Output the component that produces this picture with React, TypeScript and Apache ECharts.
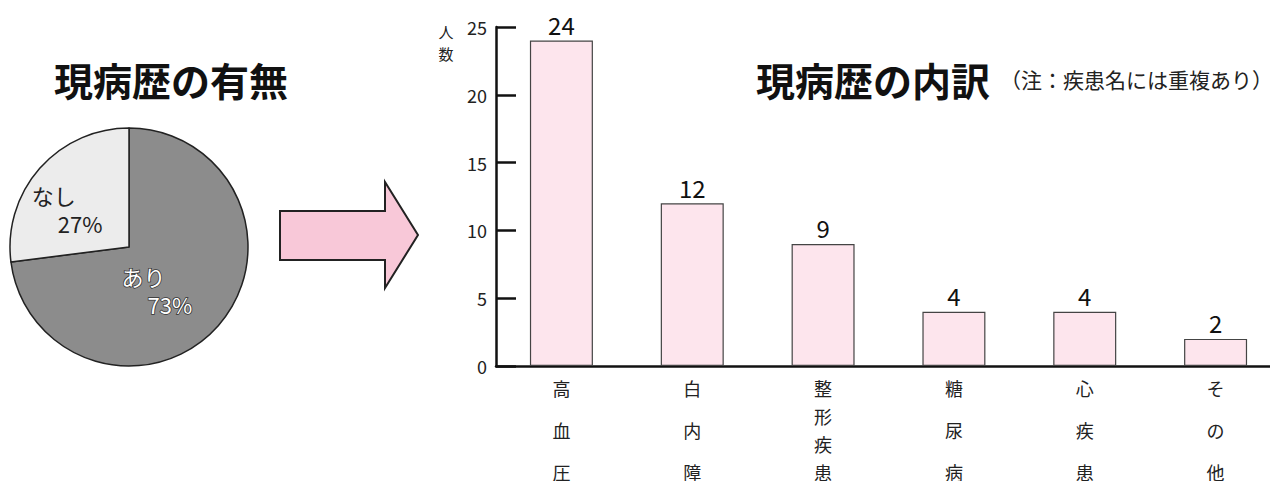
import React, { useEffect, useRef } from "react";
import * as echarts from "echarts";

const pieNames = ["あり", "なし"];
const pieValues = [73, 27];
const categories = ["高血圧", "白内障", "整形疾患", "糖尿病", "心疾患", "その他"];
const counts = [24, 12, 9, 4, 4, 2];
const yMin = 0;
const yMax = 25;
const yStep = 5;
const leftTitle = "現病歴の有無";
const rightTitle = "現病歴の内訳";
const noteText = "（注：疾患名には重複あり）";
const yNameChars = ["人", "数"];

const FONT = "'Noto Sans CJK JP', 'Noto Sans', sans-serif";

export default function App() {
  const ref = useRef<HTMLDivElement>(null);
  useEffect(() => {
    if (!ref.current) return;
    const chart = echarts.init(ref.current, null, { renderer: "svg" });
    const option: any = {
      animation: false,
      backgroundColor: "#ffffff",
      textStyle: { fontFamily: FONT },
      title: [
        {
          text: leftTitle,
          left: 54,
          top: 59,
          padding: 0,
          textStyle: { fontFamily: FONT, fontSize: 39, fontWeight: "bold", color: "#111" },
        },
        {
          text: rightTitle,
          left: 756,
          top: 59,
          padding: 0,
          textStyle: { fontFamily: FONT, fontSize: 39, fontWeight: "bold", color: "#111" },
        },
        {
          text: noteText,
          left: 1000,
          top: 68,
          padding: 0,
          textStyle: { fontFamily: FONT, fontSize: 21, fontWeight: "normal", color: "#222" },
        },
      ],
      grid: {
        left: 496,
        right: -11,
        top: 27,
        bottom: 115,
        containLabel: false,
        outerBoundsMode: "none",
      },
      xAxis: {
        type: "category",
        data: categories,
        axisLine: { show: true, lineStyle: { color: "#111", width: 2.5 } },
        axisTick: { show: false },
        axisLabel: {
          interval: 0,
          margin: 8,
          formatter: (v: string) => {
            const chars = v.split("");
            if (chars.length >= 4) return chars.map((c) => `{c|${c}}`).join("\n");
            return chars.map((c) => `{c|${c}}`).join("\n{s| }\n");
          },
          rich: {
            c: { fontFamily: FONT, fontSize: 18, lineHeight: 28, color: "#222" },
            s: { fontSize: 2, lineHeight: 14 },
          },
        },
      },
      yAxis: {
        type: "value",
        min: yMin,
        max: yMax,
        interval: yStep,
        axisLine: { show: true, lineStyle: { color: "#111", width: 2.5 } },
        axisTick: { show: true, inside: true, length: 20, lineStyle: { color: "#111", width: 2.5 } },
        splitLine: { show: false },
        axisLabel: { fontFamily: FONT, fontSize: 18, color: "#222", margin: 9 },
      },
      series: [
        {
          type: "bar",
          data: counts,
          barWidth: 63,
          itemStyle: { color: "#fde5ed", borderColor: "#444", borderWidth: 1.2 },
          label: {
            show: true,
            position: "top",
            distance: 4,
            fontFamily: FONT,
            fontSize: 24,
            color: "#111",
          },
        },
        {
          type: "pie",
          center: [129, 247],
          radius: 119,
          startAngle: 90,
          clockwise: true,
          silent: true,
          data: pieNames.map((n, i) => ({
            name: n,
            value: pieValues[i],
            itemStyle: { color: i === 0 ? "#8c8c8c" : "#ececec" },
            label:
              i === 0
                ? { color: "#ffffff", textBorderColor: "#333", textBorderWidth: 1.5 }
                : { color: "#222" },
          })),
          itemStyle: { borderColor: "#222", borderWidth: 1.5 },
          label: {
            show: true,
            position: "inside",
            formatter: (p: any) => `{n|${p.name}}\n{p|${p.value}%}`,
            rich: {
              n: { fontFamily: FONT, fontSize: 22, lineHeight: 28, align: "left" },
              p: { fontFamily: FONT, fontSize: 22, lineHeight: 28, align: "left", padding: [0, 0, 0, 26] },
            },
          },
          labelLayout: (params: any) =>
            params.dataIndex === 0 ? { dx: -19, dy: 2 } : { dx: -15, dy: 3 },
          labelLine: { show: false },
        },
      ],
      graphic: [
        {
          type: "polygon",
          shape: {
            points: [
              [280, 211],
              [385, 211],
              [385, 182],
              [418, 235],
              [385, 288],
              [385, 260],
              [280, 260],
            ],
          },
          style: { fill: "#f8c8d8", stroke: "#222", lineWidth: 2 },
        },
        ...yNameChars.map((ch, i) => ({
          type: "text",
          x: 446,
          y: 31 + i * 22,
          style: {
            text: ch,
            fontFamily: FONT,
            fontSize: 15,
            fill: "#222",
            align: "center",
            verticalAlign: "middle",
          },
        })),
      ],
    };
    chart.setOption(option);
    return () => chart.dispose();
  }, []);
  return (
    <div
      ref={ref}
      style={{ position: "fixed", left: 0, top: 0, width: 1270, height: 481, background: "#fff" }}
    />
  );
}
